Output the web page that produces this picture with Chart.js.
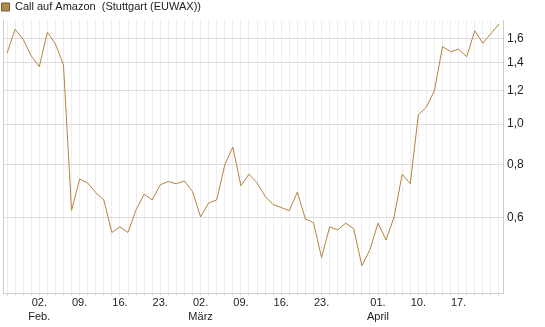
<!DOCTYPE html>
<html>
<head>
<meta charset="utf-8">
<script src="https://cdn.jsdelivr.net/npm/chart.js@4/dist/chart.umd.min.js"></script>
<style>
  html, body { margin: 0; padding: 0; background: #fff; }
  canvas { display: block; }
</style>
</head>
<body>
<canvas id="kursChart" width="545" height="327"></canvas>
<script>
// Handelstage (Ende Jan. bis Ende April)
const dates = [
  '27.01.', '28.01.', '29.01.', '30.01.',
  '02.02.', '03.02.', '04.02.', '05.02.', '06.02.',
  '09.02.', '10.02.', '11.02.', '12.02.', '13.02.',
  '16.02.', '17.02.', '18.02.', '19.02.', '20.02.',
  '23.02.', '24.02.', '25.02.', '26.02.', '27.02.',
  '02.03.', '03.03.', '04.03.', '05.03.', '06.03.',
  '09.03.', '10.03.', '11.03.', '12.03.', '13.03.',
  '16.03.', '17.03.', '18.03.', '19.03.', '20.03.',
  '23.03.', '24.03.', '25.03.', '26.03.', '27.03.',
  '30.03.', '31.03.', '01.04.', '02.04.',
  '07.04.', '08.04.', '09.04.', '10.04.',
  '13.04.', '14.04.', '15.04.', '16.04.', '17.04.',
  '20.04.', '21.04.', '22.04.', '23.04.', '24.04.'
];

// Kurs Call auf Amazon
const kurs = [
  1.476, 1.683, 1.593, 1.454,
  1.371, 1.656, 1.553, 1.384, 0.623,
  0.740, 0.724, 0.687, 0.660, 0.552,
  0.569, 0.552, 0.625, 0.681, 0.660,
  0.717, 0.730, 0.721, 0.732, 0.691,
  0.601, 0.649, 0.660, 0.800, 0.882,
  0.713, 0.760, 0.725, 0.673, 0.643,
  0.633, 0.622, 0.689, 0.594, 0.583,
  0.481, 0.569, 0.560, 0.581, 0.563,
  0.460, 0.502, 0.581, 0.530,
  0.601, 0.760, 0.721, 1.052,
  1.098, 1.202, 1.530, 1.489, 1.508,
  1.448, 1.670, 1.559, 1.643, 1.732
];

// beschriftete Tage auf der x-Achse
const tickDates = ['02.02.', '09.02.', '16.02.', '23.02.', '02.03.', '09.03.',
                   '16.03.', '23.03.', '01.04.', '10.04.', '17.04.'];
const monthNames = { '02': 'Feb.', '03': 'März', '04': 'April' };

// y-Achse (logarithmisch)
const yTicks = [0.6, 0.8, 1.0, 1.2, 1.4, 1.6];
const yMin = 0.396;
const yMax = 1.766;

const LINE_COLOR = '#b5843c';
const FONT = '"Liberation Sans", Arial, sans-serif';
const shownMonths = {};

// Legende etwas flacher machen, damit der Plot höher beginnt
const legendHeight = {
  id: 'legendHeight',
  afterInit(chart) {
    const lg = chart.legend;
    if (!lg) return;
    const origFit = lg.fit;
    lg.fit = function () {
      origFit.call(this);
      this.height = 20.5;
    };
  }
};

const ctx = document.getElementById('kursChart').getContext('2d');
new Chart(ctx, {
  type: 'line',
  data: {
    labels: dates,
    datasets: [{
      label: 'Call auf Amazon  (Stuttgart (EUWAX))',
      data: kurs,
      borderColor: LINE_COLOR,
      backgroundColor: '#b08a52',
      borderWidth: 1,
      pointRadius: 0,
      tension: 0,
      fill: false,
      yAxisID: 'y'
    }]
  },
  plugins: [legendHeight],
  options: {
    responsive: false,
    animation: false,
    layout: { padding: 0 },
    plugins: {
      tooltip: { enabled: false },
      legend: {
        display: true,
        position: 'top',
        align: 'start',
        labels: {
          boxWidth: 8,
          boxHeight: 8,
          padding: 1.5,
          color: '#222',
          font: { family: FONT, size: 11 },
          generateLabels: function (chart) {
            const ds = chart.data.datasets[0];
            return [{
              text: ds.label,
              fillStyle: '#b08a52',
              strokeStyle: '#7a5a2a',
              lineWidth: 1,
              datasetIndex: 0,
              fontColor: '#222'
            }];
          }
        }
      }
    },
    scales: {
      x: {
        type: 'category',
        offset: true,
        grid: {
          offset: false,
          color: '#eeeeee',
          tickColor: '#dddddd',
          tickLength: 3
        },
        border: { color: '#cccccc' },
        ticks: {
          autoSkip: false,
          maxRotation: 0,
          padding: 0,
          color: '#222',
          font: { family: FONT, size: 11, lineHeight: 1.25 },
          callback: function (value, index) {
            const d = dates[index];
            if (!tickDates.includes(d)) return '';
            const day = d.slice(0, 3);
            const mon = d.slice(3, 5);
            if (!shownMonths[mon] || shownMonths[mon] === d) {
              shownMonths[mon] = d;
              return [day, monthNames[mon]];
            }
            return day;
          }
        },
        afterFit: function (scale) { scale.height = 34; }
      },
      y: {
        type: 'logarithmic',
        position: 'right',
        min: yMin,
        max: yMax,
        grid: { color: '#dddddd', drawTicks: false },
        border: { color: '#cccccc' },
        ticks: {
          padding: 4,
          color: '#222',
          font: { family: FONT, size: 12 },
          callback: function (value) {
            return Number(value).toFixed(1).replace('.', ',');
          }
        },
        afterBuildTicks: function (scale) {
          scale.ticks = yTicks.map(v => ({ value: v }));
        },
        afterFit: function (scale) { scale.width = 42; }
      },
      yl: {
        position: 'left',
        display: true,
        grid: { display: false, drawTicks: false },
        border: { color: '#cccccc' },
        ticks: { display: false },
        afterFit: function (scale) { scale.width = 3; }
      }
    }
  }
});
</script>
</body>
</html>
